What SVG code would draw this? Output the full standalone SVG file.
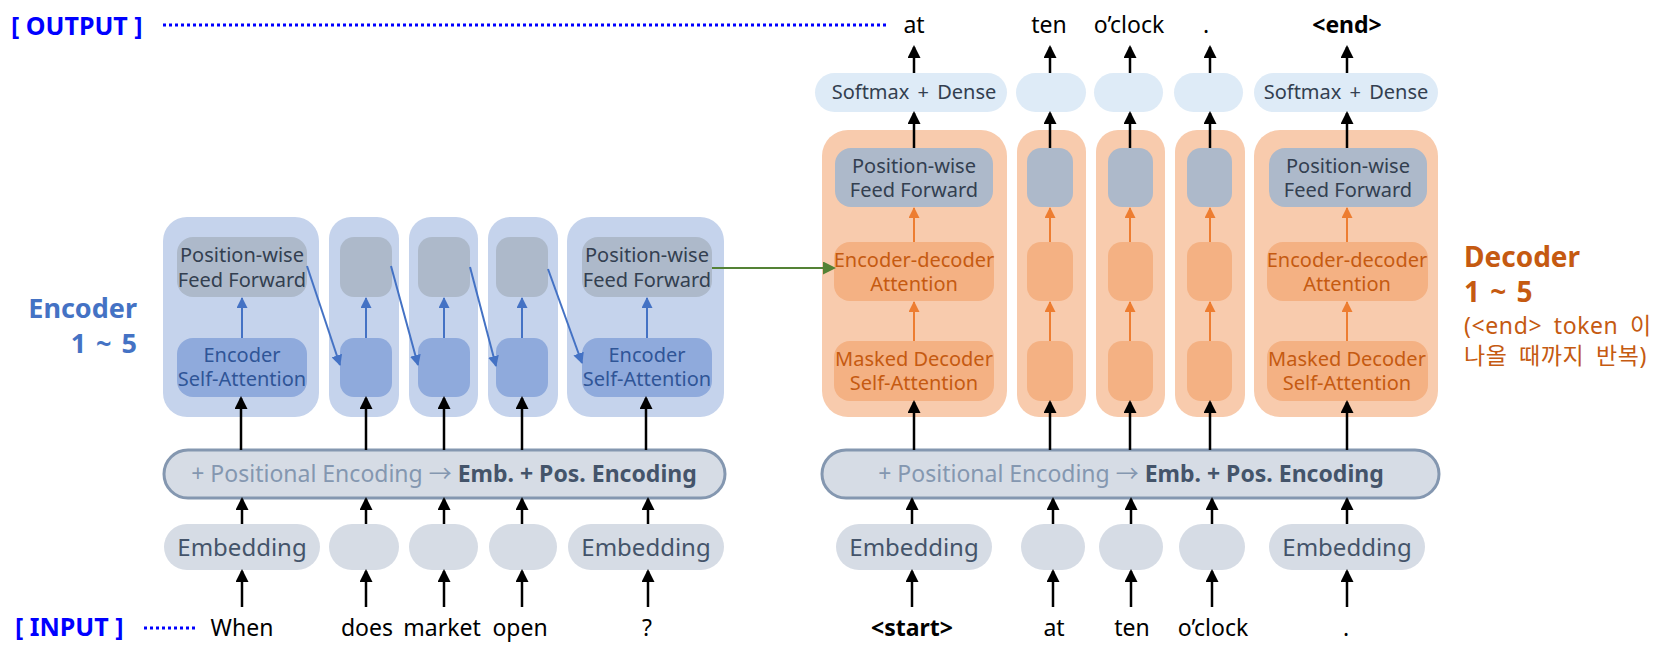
<svg xmlns="http://www.w3.org/2000/svg" width="1676" height="655" viewBox="0 0 1676 655">
<defs>
<marker id="ak" markerUnits="userSpaceOnUse" markerWidth="13" markerHeight="13" refX="11" refY="6.5" orient="auto"><path d="M0,0 L13,6.5 L0,13 z" fill="#000"/></marker>
<marker id="ab" markerUnits="userSpaceOnUse" markerWidth="11" markerHeight="11" refX="10" refY="5.5" orient="auto"><path d="M0,0 L11,5.5 L0,11 z" fill="#4472C4"/></marker>
<marker id="ao" markerUnits="userSpaceOnUse" markerWidth="11" markerHeight="11" refX="10" refY="5.5" orient="auto"><path d="M0,0 L11,5.5 L0,11 z" fill="#ED7D31"/></marker>
<marker id="ag" markerUnits="userSpaceOnUse" markerWidth="13" markerHeight="13" refX="11" refY="6.5" orient="auto"><path d="M0,0 L13,6.5 L0,13 z" fill="#548235"/></marker>
</defs>
<style>
text{font-family:"Noto Sans","Noto Sans CJK KR",sans-serif}
.eo{fill:#C5D3EC}
.pff{fill:#ADB9CA}
.esa{fill:#8FAADC}
.do{fill:#F8CBAD}
.da{fill:#F4B183}
.sm{fill:#DEEBF7}
.emb{fill:#D6DCE5}
.bar{fill:#D6DCE5;stroke:#8497B0;stroke-width:3}
.t{font-size:20px;text-anchor:middle;fill:#333F50}
.te{font-size:20px;text-anchor:middle;fill:#2F5597}
.to{font-size:20px;text-anchor:middle;fill:#C55A11}
.tm{font-size:24px;text-anchor:middle;fill:#44546A}
.tw{font-size:23px;text-anchor:middle;fill:#000}
.tb{font-size:23px;text-anchor:middle}
.lbl{font-size:25px;font-weight:bold;fill:#0000FF}
.k{stroke:#000;stroke-width:2.5;fill:none;marker-end:url(#ak)}
.b{stroke:#4472C4;stroke-width:2;fill:none;marker-end:url(#ab)}
.o{stroke:#ED7D31;stroke-width:2;fill:none;marker-end:url(#ao)}
.g{stroke:#548235;stroke-width:2;fill:none;marker-end:url(#ag)}
.dot{stroke:#0000FF;stroke-width:3;stroke-dasharray:3 3;fill:none}
</style>

<g id="labels">
<text class="lbl" x="11" y="35">[ OUTPUT ]</text>
<text class="lbl" x="15" y="636">[ INPUT ]</text>
<text x="137" y="318" font-size="27" font-weight="bold" fill="#4472C4" text-anchor="end">Encoder</text>
<text x="137" y="353" font-size="27" font-weight="bold" fill="#4472C4" text-anchor="end" word-spacing="3">1 ~ 5</text>
<text x="1464" y="267" font-size="28" font-weight="bold" fill="#C55A11">Decoder</text>
<text x="1464" y="302" font-size="28" font-weight="bold" fill="#C55A11" word-spacing="3">1 ~ 5</text>
<text x="1464" y="334" font-size="23" fill="#C55A11" word-spacing="5" letter-spacing="0.6">(&lt;end&gt; token 이</text>
<text x="1464" y="364" font-size="23" fill="#C55A11" word-spacing="5" letter-spacing="0.6">나올 때까지 반복)</text>
</g>

<g id="encoder-1">
<rect class="eo" x="163" y="217" width="156" height="200" rx="24"/>
<rect class="pff" x="177" y="237" width="130" height="60" rx="16"/>
<text class="t" x="242" y="262">Position-wise</text>
<text class="t" x="242" y="287">Feed Forward</text>
<rect class="esa" x="177" y="338" width="130" height="59" rx="16"/>
<text class="te" x="242" y="362">Encoder</text>
<text class="te" x="242" y="386">Self-Attention</text>
</g>
<g id="encoder-2">
<rect class="eo" x="329" y="217" width="70" height="200" rx="22"/>
<rect class="pff" x="340" y="237" width="52" height="60" rx="14"/>
<rect class="esa" x="340" y="338" width="52" height="59" rx="14"/>
</g>
<g id="encoder-3">
<rect class="eo" x="409" y="217" width="69" height="200" rx="22"/>
<rect class="pff" x="418" y="237" width="52" height="60" rx="14"/>
<rect class="esa" x="418" y="338" width="52" height="59" rx="14"/>
</g>
<g id="encoder-4">
<rect class="eo" x="488" y="217" width="70" height="200" rx="22"/>
<rect class="pff" x="496" y="237" width="52" height="60" rx="14"/>
<rect class="esa" x="496" y="338" width="52" height="59" rx="14"/>
</g>
<g id="encoder-5">
<rect class="eo" x="567" y="217" width="157" height="200" rx="24"/>
<rect class="pff" x="582" y="237" width="130" height="60" rx="16"/>
<text class="t" x="647" y="262">Position-wise</text>
<text class="t" x="647" y="287">Feed Forward</text>
<rect class="esa" x="582" y="338" width="130" height="59" rx="16"/>
<text class="te" x="647" y="362">Encoder</text>
<text class="te" x="647" y="386">Self-Attention</text>
</g>

<g id="enc-posenc">
<rect class="bar" x="164" y="450" width="561" height="48" rx="24"/>
<text class="tb" x="444" y="482"><tspan fill="#8497B0">+ Positional Encoding → </tspan><tspan fill="#44546A" font-weight="bold">Emb. + Pos. Encoding</tspan></text>
</g>
<g id="enc-embedding">
<rect class="emb" x="164" y="524" width="156" height="46" rx="23"/>
<text class="tm" x="242" y="556">Embedding</text>
<rect class="emb" x="329" y="524" width="70" height="46" rx="23"/>
<rect class="emb" x="409" y="524" width="69" height="46" rx="23"/>
<rect class="emb" x="489" y="524" width="68" height="46" rx="23"/>
<rect class="emb" x="568" y="524" width="156" height="46" rx="23"/>
<text class="tm" x="646" y="556">Embedding</text>
</g>
<g id="enc-inputs">
<text class="tw" x="242" y="636">When</text>
<text class="tw" x="367" y="636">does</text>
<text class="tw" x="442" y="636">market</text>
<text class="tw" x="520" y="636">open</text>
<text class="tw" x="647" y="636">?</text>
</g>

<g id="softmax">
<rect class="sm" x="815" y="73" width="192" height="39" rx="19.5"/>
<text class="t" x="914" y="99" word-spacing="3">Softmax + Dense</text>
<rect class="sm" x="1016" y="73" width="70" height="39" rx="19.5"/>
<rect class="sm" x="1094" y="73" width="69" height="39" rx="19.5"/>
<rect class="sm" x="1174" y="73" width="69" height="39" rx="19.5"/>
<rect class="sm" x="1254" y="73" width="184" height="39" rx="19.5"/>
<text class="t" x="1346" y="99" word-spacing="3">Softmax + Dense</text>
</g>
<g id="outputs">
<text class="tw" x="914" y="33">at</text>
<text class="tw" x="1049" y="33">ten</text>
<text class="tw" x="1129" y="33">o’clock</text>
<text class="tw" x="1206" y="33">.</text>
<text class="tw" x="1347" y="33" font-weight="bold">&lt;end&gt;</text>
</g>

<g id="decoder-1">
<rect class="do" x="822" y="130" width="185" height="287" rx="26"/>
<rect class="pff" x="835" y="148" width="158" height="59" rx="16"/>
<text class="t" x="914" y="173">Position-wise</text>
<text class="t" x="914" y="197">Feed Forward</text>
<rect class="da" x="834" y="242" width="160" height="59" rx="16"/>
<text class="to" x="914" y="267">Encoder-decoder</text>
<text class="to" x="914" y="291">Attention</text>
<rect class="da" x="834" y="341" width="160" height="60" rx="16"/>
<text class="to" x="914" y="366">Masked Decoder</text>
<text class="to" x="914" y="390">Self-Attention</text>
</g>
<g id="decoder-2">
<rect class="do" x="1017" y="130" width="69" height="287" rx="22"/>
<rect class="pff" x="1027" y="148" width="46" height="59" rx="14"/>
<rect class="da" x="1027" y="242" width="46" height="59" rx="14"/>
<rect class="da" x="1027" y="341" width="46" height="60" rx="14"/>
</g>
<g id="decoder-3">
<rect class="do" x="1096" y="130" width="69" height="287" rx="22"/>
<rect class="pff" x="1108" y="148" width="45" height="59" rx="14"/>
<rect class="da" x="1108" y="242" width="45" height="59" rx="14"/>
<rect class="da" x="1108" y="341" width="45" height="60" rx="14"/>
</g>
<g id="decoder-4">
<rect class="do" x="1175" y="130" width="70" height="287" rx="22"/>
<rect class="pff" x="1187" y="148" width="45" height="59" rx="14"/>
<rect class="da" x="1187" y="242" width="45" height="59" rx="14"/>
<rect class="da" x="1187" y="341" width="45" height="60" rx="14"/>
</g>
<g id="decoder-5">
<rect class="do" x="1254" y="130" width="184" height="287" rx="26"/>
<rect class="pff" x="1269" y="148" width="158" height="59" rx="16"/>
<text class="t" x="1348" y="173">Position-wise</text>
<text class="t" x="1348" y="197">Feed Forward</text>
<rect class="da" x="1267" y="242" width="161" height="59" rx="16"/>
<text class="to" x="1347" y="267">Encoder-decoder</text>
<text class="to" x="1347" y="291">Attention</text>
<rect class="da" x="1267" y="341" width="161" height="60" rx="16"/>
<text class="to" x="1347" y="366">Masked Decoder</text>
<text class="to" x="1347" y="390">Self-Attention</text>
</g>

<g id="dec-posenc">
<rect class="bar" x="822" y="450" width="617" height="48" rx="24"/>
<text class="tb" x="1131" y="482"><tspan fill="#8497B0">+ Positional Encoding → </tspan><tspan fill="#44546A" font-weight="bold">Emb. + Pos. Encoding</tspan></text>
</g>
<g id="dec-embedding">
<rect class="emb" x="836" y="524" width="156" height="46" rx="23"/>
<text class="tm" x="914" y="556">Embedding</text>
<rect class="emb" x="1021" y="524" width="64" height="46" rx="23"/>
<rect class="emb" x="1099" y="524" width="64" height="46" rx="23"/>
<rect class="emb" x="1179" y="524" width="66" height="46" rx="23"/>
<rect class="emb" x="1269" y="524" width="156" height="46" rx="23"/>
<text class="tm" x="1347" y="556">Embedding</text>
</g>
<g id="dec-inputs">
<text class="tw" x="912" y="636" font-weight="bold">&lt;start&gt;</text>
<text class="tw" x="1054" y="636">at</text>
<text class="tw" x="1132" y="636">ten</text>
<text class="tw" x="1213" y="636">o’clock</text>
<text class="tw" x="1346" y="636">.</text>
</g>

<g id="connectors">
<line class="dot" x1="163" y1="25" x2="888" y2="25"/>
<line class="dot" x1="144" y1="628" x2="195" y2="628"/>
<line class="k" x1="242" y1="607" x2="242" y2="571"/>
<line class="k" x1="366" y1="607" x2="366" y2="571"/>
<line class="k" x1="444" y1="607" x2="444" y2="571"/>
<line class="k" x1="522" y1="607" x2="522" y2="571"/>
<line class="k" x1="648" y1="607" x2="648" y2="571"/>
<line class="k" x1="242" y1="524" x2="242" y2="499"/>
<line class="k" x1="366" y1="524" x2="366" y2="499"/>
<line class="k" x1="444" y1="524" x2="444" y2="499"/>
<line class="k" x1="522" y1="524" x2="522" y2="499"/>
<line class="k" x1="648" y1="524" x2="648" y2="499"/>
<line class="k" x1="241" y1="450" x2="241" y2="398"/>
<line class="k" x1="366" y1="450" x2="366" y2="398"/>
<line class="k" x1="444" y1="450" x2="444" y2="398"/>
<line class="k" x1="522" y1="450" x2="522" y2="398"/>
<line class="k" x1="646" y1="450" x2="646" y2="398"/>
<line class="b" x1="242" y1="338" x2="242" y2="298"/>
<line class="b" x1="366" y1="338" x2="366" y2="298"/>
<line class="b" x1="444" y1="338" x2="444" y2="298"/>
<line class="b" x1="522" y1="338" x2="522" y2="298"/>
<line class="b" x1="647" y1="338" x2="647" y2="298"/>
<line class="b" x1="307" y1="266" x2="340" y2="365"/>
<line class="b" x1="391" y1="266" x2="418" y2="365"/>
<line class="b" x1="470" y1="267" x2="496" y2="366"/>
<line class="b" x1="548" y1="269" x2="582" y2="363"/>
<line class="g" x1="712" y1="268" x2="834" y2="268"/>
<line class="k" x1="912" y1="607" x2="912" y2="571"/>
<line class="k" x1="1053" y1="607" x2="1053" y2="571"/>
<line class="k" x1="1131" y1="607" x2="1131" y2="571"/>
<line class="k" x1="1212" y1="607" x2="1212" y2="571"/>
<line class="k" x1="1347" y1="607" x2="1347" y2="571"/>
<line class="k" x1="912" y1="524" x2="912" y2="499"/>
<line class="k" x1="1053" y1="524" x2="1053" y2="499"/>
<line class="k" x1="1131" y1="524" x2="1131" y2="499"/>
<line class="k" x1="1212" y1="524" x2="1212" y2="499"/>
<line class="k" x1="1347" y1="524" x2="1347" y2="499"/>
<line class="k" x1="914" y1="450" x2="914" y2="402"/>
<line class="k" x1="1050" y1="450" x2="1050" y2="402"/>
<line class="k" x1="1130" y1="450" x2="1130" y2="402"/>
<line class="k" x1="1210" y1="450" x2="1210" y2="402"/>
<line class="k" x1="1347" y1="450" x2="1347" y2="402"/>
<line class="o" x1="914" y1="341" x2="914" y2="302"/>
<line class="o" x1="1050" y1="341" x2="1050" y2="302"/>
<line class="o" x1="1130" y1="341" x2="1130" y2="302"/>
<line class="o" x1="1210" y1="341" x2="1210" y2="302"/>
<line class="o" x1="1347" y1="341" x2="1347" y2="302"/>
<line class="o" x1="914" y1="242" x2="914" y2="208"/>
<line class="o" x1="1050" y1="242" x2="1050" y2="208"/>
<line class="o" x1="1130" y1="242" x2="1130" y2="208"/>
<line class="o" x1="1210" y1="242" x2="1210" y2="208"/>
<line class="o" x1="1347" y1="242" x2="1347" y2="208"/>
<line class="k" x1="914" y1="148" x2="914" y2="113"/>
<line class="k" x1="1050" y1="148" x2="1050" y2="113"/>
<line class="k" x1="1130" y1="148" x2="1130" y2="113"/>
<line class="k" x1="1210" y1="148" x2="1210" y2="113"/>
<line class="k" x1="1347" y1="148" x2="1347" y2="113"/>
<line class="k" x1="914" y1="73" x2="914" y2="47"/>
<line class="k" x1="1050" y1="73" x2="1050" y2="47"/>
<line class="k" x1="1130" y1="73" x2="1130" y2="47"/>
<line class="k" x1="1210" y1="73" x2="1210" y2="47"/>
<line class="k" x1="1347" y1="73" x2="1347" y2="47"/>
</g>
</svg>
